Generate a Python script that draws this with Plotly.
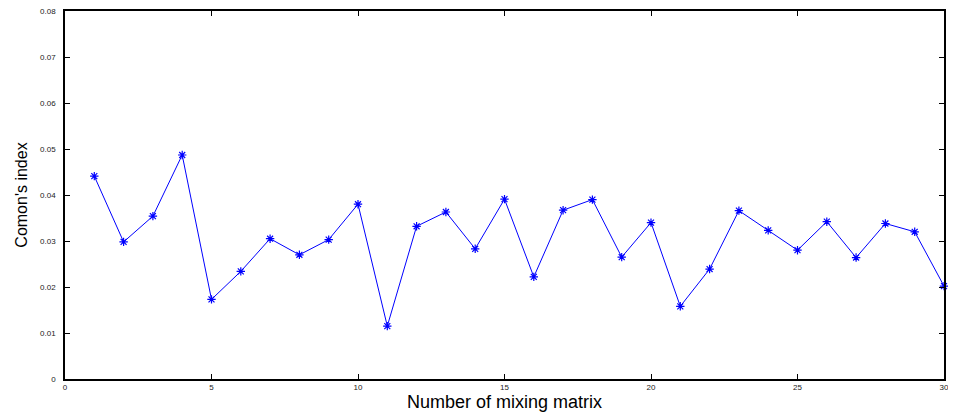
import plotly.graph_objects as go

matrix_number = list(range(1, 31))
comon_index = [0.0441, 0.0298, 0.0354, 0.0487, 0.0173, 0.0234, 0.0305, 0.0270, 0.0303, 0.0380,
               0.0115, 0.0332, 0.0363, 0.0283, 0.0391, 0.0222, 0.0367, 0.0390, 0.0265, 0.0340,
               0.0158, 0.0239, 0.0366, 0.0323, 0.0280, 0.0342, 0.0264, 0.0338, 0.0320, 0.0202]
x_ticks = [0, 5, 10, 15, 20, 25, 30]
y_ticks = [0, 0.01, 0.02, 0.03, 0.04, 0.05, 0.06, 0.07, 0.08]
y_tick_labels = ["0", "0.01", "0.02", "0.03", "0.04", "0.05", "0.06", "0.07", "0.08"]

fig = go.Figure()
fig.add_trace(go.Scatter(
    x=matrix_number, y=comon_index, mode="lines+markers",
    line=dict(color="#0000ff", width=1),
    marker=dict(symbol="asterisk-open", size=7, color="#0000ff", line=dict(color="#0000ff", width=1.2)),
    showlegend=False, cliponaxis=False,
))

axis_common = dict(showline=True, linecolor="black", linewidth=1.5, mirror="ticks",
                   ticks="inside", ticklen=5, tickcolor="black", showgrid=False, zeroline=False,
                   automargin=False, ticklabeloverflow="allow",
                   tickfont=dict(family="Liberation Sans, Arial", size=8, color="#222"))

fig.update_xaxes(range=[0, 30], tickvals=x_ticks, ticktext=[str(v) for v in x_ticks],
                 title=dict(text="Number of mixing matrix", standoff=0,
                            font=dict(family="Liberation Sans, Arial", size=18, color="black")),
                 ticklabelstandoff=0, **axis_common)
fig.update_yaxes(range=[0, 0.08], tickvals=y_ticks, ticktext=y_tick_labels,
                 title=dict(text="Comon's index", standoff=8,
                            font=dict(family="Liberation Sans, Arial", size=16, color="black")),
                 ticklabelstandoff=6, **axis_common)

# page body has an 8px default margin, so the figure is sized/offset to compensate
fig.update_layout(width=948, height=406, margin=dict(l=57, r=12, t=3, b=35),
                  plot_bgcolor="white", paper_bgcolor="white")
fig.write_html("out.html")
